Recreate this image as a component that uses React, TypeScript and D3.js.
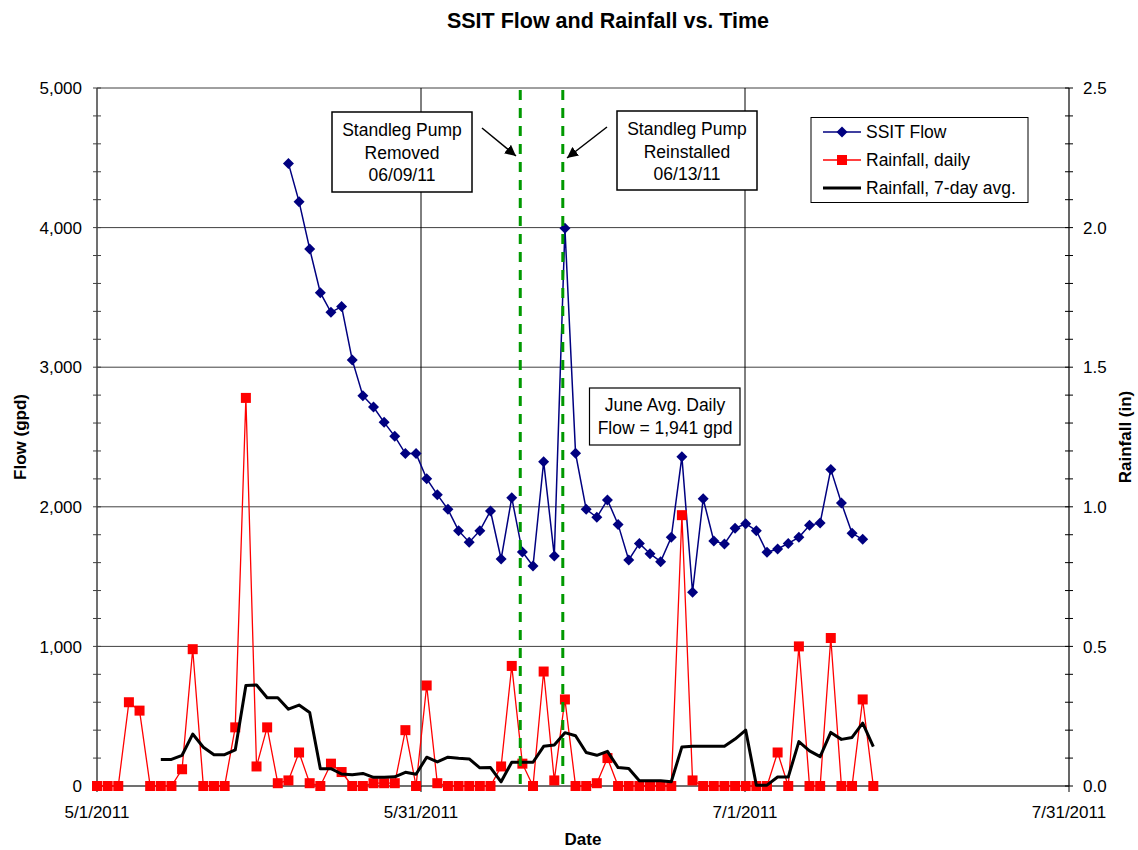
import React from "react";
import * as d3 from "d3";

// Days counted from 5/1/2011
const rainfallDaily = [
  0, 0, 0, 0.3, 0.27, 0, 0, 0, 0.06, 0.49, 0, 0, 0, 0.21, 1.39, 0.07, 0.21, 0.01, 0.02, 0.12,
  0.01, 0, 0.08, 0.05, 0, 0, 0.01, 0.01, 0.01, 0.2, 0, 0.36, 0.01, 0, 0, 0, 0, 0, 0.07, 0.43,
  0.08, 0, 0.41, 0.02, 0.31, 0, 0, 0.01, 0.1, 0, 0, 0, 0, 0, 0, 0.97, 0.02, 0, 0, 0,
  0, 0, 0, 0, 0.12, 0, 0.5, 0, 0, 0.53, 0, 0, 0.31, 0,
];
const rainfallDailyStart = 0;

const rainfall7Day = [
  0.095, 0.095, 0.11, 0.186, 0.139, 0.112, 0.112, 0.129, 0.36, 0.362, 0.316, 0.316, 0.275, 0.29,
  0.263, 0.062, 0.062, 0.043, 0.04, 0.045, 0.031, 0.031, 0.033, 0.049, 0.042, 0.103, 0.086, 0.103,
  0.099, 0.097, 0.065, 0.066, 0.015, 0.085, 0.085, 0.085, 0.142, 0.147, 0.191, 0.18, 0.12, 0.11,
  0.124, 0.066, 0.063, 0.019, 0.019, 0.019, 0.015, 0.14, 0.142, 0.142, 0.142, 0.142, 0.168, 0.2,
  0.003, 0.003, 0.032, 0.032, 0.159, 0.126, 0.105, 0.192, 0.167, 0.174, 0.225, 0.141,
];
const rainfall7DayStart = 6;

const ssitFlow = [
  4460, 4186, 3847, 3534, 3393, 3434, 3052, 2796, 2715, 2605, 2505, 2381, 2381, 2201, 2087, 1982,
  1829, 1746, 1829, 1970, 1626, 2065, 1676, 1576, 2323, 1648, 3995, 2383, 1982, 1925, 2049, 1874,
  1619, 1738, 1664, 1607, 1781, 2359, 1388, 2058, 1755, 1734, 1846, 1879, 1829, 1674, 1698, 1738,
  1781, 1867, 1884, 2268, 2027, 1810, 1767,
];
const ssitFlowStart = 18;

const pumpEventDays = [39.8, 43.8];
const xTickLabels = ["5/1/2011", "5/31/2011", "7/1/2011", "7/31/2011"];
const xDomainDays = 91.4;
const flowTicks = [0, 1000, 2000, 3000, 4000, 5000];
const rainTicks = [0, 0.5, 1.0, 1.5, 2.0, 2.5];

const FONT = "'Liberation Sans', Arial, Helvetica, sans-serif";

export default function App() {
  const W = 1138, H = 850;
  const left = 97, right = 1069, top = 88, bottom = 786;
  const x = d3.scaleLinear().domain([0, xDomainDays]).range([left, right]);
  const yL = d3.scaleLinear().domain([0, 5000]).range([bottom, top]);
  const yR = d3.scaleLinear().domain([0, 2.5]).range([bottom, top]);

  const xTicks = xTickLabels.map((_, i) => (i * xDomainDays) / (xTickLabels.length - 1));

  const flowPts = ssitFlow.map((v, i) => [x(ssitFlowStart + i), yL(v)] as [number, number]);
  const rainPts = rainfallDaily.map((v, i) => [x(rainfallDailyStart + i), yR(v)] as [number, number]);
  const avgPts = rainfall7Day.map((v, i) => [x(rainfall7DayStart + i), yR(v)] as [number, number]);
  const line = d3.line();

  const minorL = d3.range(0, 5001, 200);
  const minorR = d3.range(0, 2.501, 0.1);

  const diamond = (cx: number, cy: number, r = 5.5) =>
    `M${cx},${cy - r}L${cx + r},${cy}L${cx},${cy + r}L${cx - r},${cy}Z`;

  return (
    <svg
      width={W}
      height={H}
      style={{ position: "absolute", left: 0, top: 0, display: "block", background: "#fff" }}
      fontFamily={FONT}
    >
      <defs>
        <marker id="arrow" viewBox="0 0 10 10" refX="10" refY="5" markerWidth="11" markerHeight="11"
          markerUnits="userSpaceOnUse" orient="auto">
          <path d="M0,0L10,5L0,10Z" fill="#000" />
        </marker>
      </defs>
      <rect x={0} y={0} width={W} height={H} fill="#fff" />

      {/* title */}
      <text x={608} y={28} textAnchor="middle" fontWeight="bold" fontSize={21.5}>
        SSIT Flow and Rainfall vs. Time
      </text>

      {/* horizontal gridlines */}
      {flowTicks.filter((t) => t > 0).map((t) => (
        <line key={"g" + t} x1={left} x2={right} y1={yL(t)} y2={yL(t)} stroke="#404040" strokeWidth={1} />
      ))}
      {/* vertical gridlines */}
      {xTicks.slice(1, -1).map((t) => (
        <line key={"v" + t} x1={x(t)} x2={x(t)} y1={top} y2={bottom} stroke="#000" strokeWidth={1} />
      ))}

      {/* axes */}
      <line x1={left} x2={left} y1={top} y2={bottom} stroke="#404040" strokeWidth={1.5} />
      <line x1={right} x2={right} y1={top} y2={bottom} stroke="#000" strokeWidth={1.2} />
      <line x1={left} x2={right} y1={bottom} y2={bottom} stroke="#404040" strokeWidth={1.5} />

      {minorL.map((t) => (
        <line key={"ml" + t} x1={left - 4} x2={left + 4} y1={yL(t)} y2={yL(t)} stroke="#404040" strokeWidth={1} />
      ))}
      {minorR.map((t) => (
        <line key={"mr" + t} x1={right - 4} x2={right + 4} y1={yR(t)} y2={yR(t)} stroke="#000" strokeWidth={1} />
      ))}
      {xTicks.map((t) => (
        <line key={"xt" + t} x1={x(t)} x2={x(t)} y1={bottom} y2={bottom + 6} stroke="#000" strokeWidth={1} />
      ))}

      {flowTicks.map((t) => (
        <text key={"lt" + t} x={left - 15} y={yL(t)} dy="0.36em" textAnchor="end" fontSize={17}>
          {d3.format(",")(t)}
        </text>
      ))}
      {rainTicks.map((t) => (
        <text key={"rt" + t} x={right + 14} y={yR(t)} dy="0.36em" textAnchor="start" fontSize={17}>
          {d3.format(".1f")(t)}
        </text>
      ))}
      {xTicks.map((t, i) => (
        <text key={"xl" + i} x={x(t)} y={818} textAnchor="middle" fontSize={17}>
          {xTickLabels[i]}
        </text>
      ))}

      {/* axis titles */}
      <text x={583} y={845} textAnchor="middle" fontWeight="bold" fontSize={17}>Date</text>
      <text transform="translate(26,437) rotate(-90)" textAnchor="middle" fontWeight="bold" fontSize={17}>
        Flow (gpd)
      </text>
      <text transform="translate(1131,437) rotate(-90)" textAnchor="middle" fontWeight="bold" fontSize={17}>
        Rainfall (in)
      </text>

      {/* SSIT flow */}
      <path d={line(flowPts) || ""} fill="none" stroke="#000080" strokeWidth={1.5} />
      {flowPts.map(([px, py], i) => (
        <path key={"f" + i} d={diamond(px, py)} fill="#000080" />
      ))}

      {/* rainfall daily */}
      <path d={line(rainPts) || ""} fill="none" stroke="#ff0000" strokeWidth={1.3} />
      {rainPts.map(([px, py], i) => (
        <rect key={"r" + i} x={px - 5} y={py - 5} width={10} height={10} fill="#ff0000" />
      ))}

      {/* 7-day average */}
      <path d={line(avgPts) || ""} fill="none" stroke="#000" strokeWidth={3} strokeLinejoin="round" />

      {/* pump events */}
      {pumpEventDays.map((d) => (
        <line key={"p" + d} x1={x(d)} x2={x(d)} y1={top + 2} y2={bottom} stroke="#009900"
          strokeWidth={3} strokeDasharray="10,8" />
      ))}

      {/* annotations */}
      <g fontSize={17.5} textAnchor="middle">
        <rect x={332} y={112} width={140} height={80} fill="#fff" stroke="#000" strokeWidth={1.5} />
        <text x={402} y={135.5}>Standleg Pump</text>
        <text x={402} y={158.5}>Removed</text>
        <text x={402} y={181}>06/09/11</text>

        <rect x={617} y={111} width={140} height={79} fill="#fff" stroke="#000" strokeWidth={1.5} />
        <text x={687} y={134.5}>Standleg Pump</text>
        <text x={687} y={157.5}>Reinstalled</text>
        <text x={687} y={180}>06/13/11</text>

        <rect x={589.5} y={388} width={150.5} height={57} fill="#fff" stroke="#000" strokeWidth={1.2} />
        <text x={665} y={411}>June Avg. Daily</text>
        <text x={665} y={433.5}>Flow = 1,941 gpd</text>
      </g>
      <line x1={482} y1={128} x2={516} y2={156} stroke="#000" strokeWidth={1.5} markerEnd="url(#arrow)" />
      <line x1={607} y1={127} x2={567} y2={158} stroke="#000" strokeWidth={1.5} markerEnd="url(#arrow)" />

      {/* legend */}
      <g fontSize={17.5}>
        <rect x={811} y={117.5} width={217} height={85} fill="#fff" stroke="#000" strokeWidth={1} />
        <line x1={823} x2={861} y1={132} y2={132} stroke="#000080" strokeWidth={1.5} />
        <path d={diamond(842, 132)} fill="#000080" />
        <text x={866} y={138}>SSIT Flow</text>
        <line x1={823} x2={861} y1={160} y2={160} stroke="#ff0000" strokeWidth={1.3} />
        <rect x={837} y={155} width={10} height={10} fill="#ff0000" />
        <text x={866} y={166}>Rainfall, daily</text>
        <line x1={823} x2={861} y1={188} y2={188} stroke="#000" strokeWidth={3} />
        <text x={866} y={194}>Rainfall, 7-day avg.</text>
      </g>
    </svg>
  );
}
